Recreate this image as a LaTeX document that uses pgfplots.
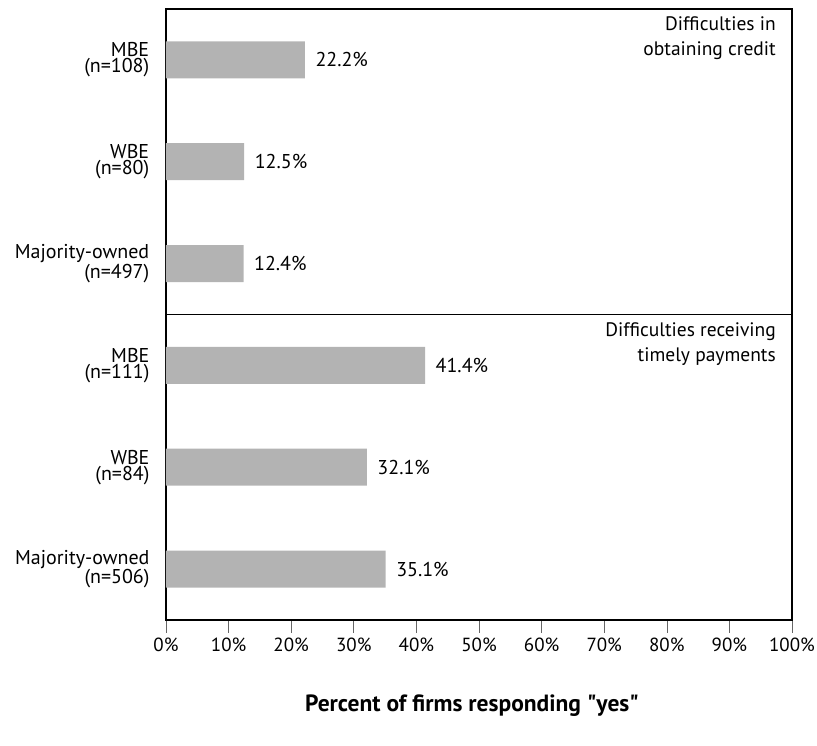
\documentclass[border=0pt]{standalone}
\usepackage{pgfplots}
\pgfplotsset{compat=1.18}
\usepackage{fontspec}
\setmainfont{PT Sans}[Ligatures=TeXOff]
\definecolor{bargray}{HTML}{B3B3B3}
\tikzset{paneltitle/.style={anchor=north east, align=right, font=\fontsize{19.5}{24.5}\selectfont, inner sep=0pt, xshift=-16pt, yshift=-8pt}}
\pgfplotsset{
  panel/.style={
    xbar, scale only axis, width=626pt, height=305.5pt,
    xmin=0, xmax=100, ymin=-0.5, ymax=2.5,
    bar width=37pt, bar shift=0pt,
    axis line style={line width=1.4pt},
    ytick={0,1,2}, y tick style={draw=none},
    yticklabel style={align=right, font=\fontsize{20}{16}\selectfont, xshift=-9pt},
    extra y ticks={0.5,1.5}, extra y tick labels={},
    extra y tick style={major tick length=4pt, tick align=inside, tick style={draw=black!60, line width=0.4pt}},
    /pgf/number format/assume math mode=true,
    nodes near coords={\pgfmathprintnumber[fixed,fixed zerofill,precision=1]{\pgfplotspointmeta}\%},
    nodes near coords style={anchor=west, xshift=7pt, font=\fontsize{20}{20}\selectfont, text=black},
    point meta=x,
    clip=false,
  },
}
\begin{document}
\begin{tikzpicture}
\path[use as bounding box] (-166pt,-126pt) rectangle (651pt,620pt);
% top panel
\begin{axis}[panel, at={(0pt,305.5pt)}, anchor=south west,
  xtick=\empty,
  yticklabels={{Majority-owned\\(n=497)},{WBE\\(n=80)},{MBE\\(n=108)}}]
\addplot[fill=bargray, draw=none] coordinates {(12.4,0) (12.5,1) (22.2,2)};
\node[paneltitle] at (rel axis cs:1,1) {Difficulties in\\obtaining credit};
\end{axis}
% bottom panel
\begin{axis}[panel, at={(0pt,0pt)}, anchor=south west,
  xtick={0,10,...,100}, xtick pos=bottom,
  major tick length=13pt,
  xticklabel={\pgfmathprintnumber{\tick}\%},
  xticklabel style={font=\fontsize{19}{19}\selectfont, yshift=-1pt},
  x tick style={line width=0.6pt, black!60},
  tick align=outside,
  yticklabel style={xshift=9pt},
  xlabel={\textbf{Percent of firms responding "yes"}},
  xlabel style={font=\fontsize{23.5}{23.5}\selectfont, at={(axis description cs:0.5,0)}, anchor=base, yshift=-92pt, xshift=-7pt},
  yticklabels={{Majority-owned\\(n=506)},{WBE\\(n=84)},{MBE\\(n=111)}}]
\addplot[fill=bargray, draw=none] coordinates {(35.1,0) (32.1,1) (41.4,2)};
\node[paneltitle] at (rel axis cs:1,1) {Difficulties receiving\\timely payments};
\end{axis}
\end{tikzpicture}
\end{document}
